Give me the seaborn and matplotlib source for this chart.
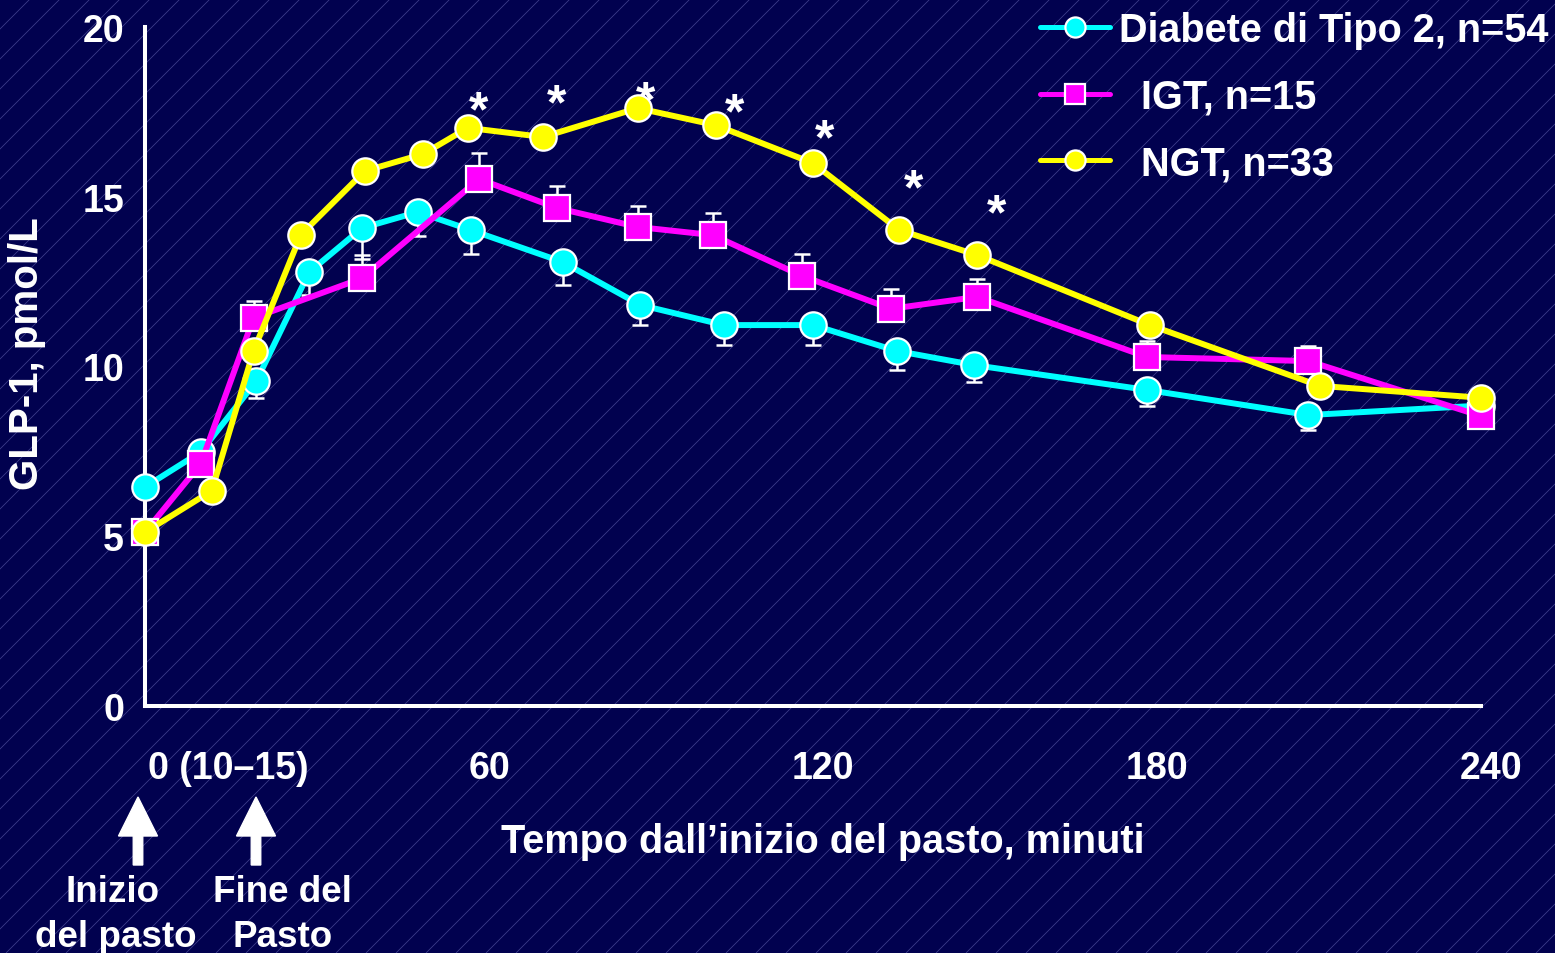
import numpy as np
import pandas as pd
import matplotlib
matplotlib.use("Agg")
import matplotlib.pyplot as plt
import matplotlib.transforms as mtransforms
from matplotlib.lines import Line2D
from matplotlib.patches import FancyArrow
import seaborn as sns

# ---- data: plasma GLP-1 (pmol/L) after a mixed meal, mean ± SEM ----
groups = ["Diabete di Tipo 2, n=54", "IGT, n=15", "NGT, n=33"]

t2d_time = [0, 10, 20, 29.5, 39, 49, 58.5, 75, 89, 104, 120, 135, 149, 180, 209, 240]
t2d_glp1 = [6.45, 7.48, 9.57, 12.78, 14.08, 14.55, 14.02, 13.08, 11.81, 11.22,
            11.22, 10.46, 10.04, 9.31, 8.57, 8.85]
t2d_sem = [0.3, 0.3, 0.5, 0.68, 0.9, 0.7, 0.7, 0.68, 0.6, 0.6,
           0.6, 0.56, 0.5, 0.47, 0.44, 0.3]

igt_time = [0, 10, 19.5, 39, 60, 74, 88.5, 102, 118, 134, 149.5, 180, 209, 240]
igt_glp1 = [5.12, 7.13, 11.43, 12.6, 15.52, 14.67, 14.11, 13.87, 12.67, 11.7,
            12.05, 10.28, 10.16, 8.54]
igt_sem = [0.2, 0.3, 0.5, 0.68, 0.77, 0.65, 0.62, 0.65, 0.65, 0.57,
           0.53, 0.47, 0.45, 0.3]

ngt_time = [0, 12, 19.5, 28, 39.5, 50, 58, 71.5, 88.5, 102.5, 120, 135.5, 149.5,
            180.5, 211, 240]
ngt_glp1 = [5.12, 6.34, 10.46, 13.88, 15.76, 16.26, 17.03, 16.76, 17.61, 17.11,
            15.99, 14.02, 13.28, 11.22, 9.43, 9.08]

# significance marks (NGT vs T2D)
sig_time = [60, 74, 90, 106, 122, 138, 153]
sig_level = [17.88, 18.09, 18.17, 17.82, 17.05, 15.58, 14.85]

x_ticks = [0, 17, 60, 120, 180, 240]
x_tick_labels = ["0 (10\u201315)", "", "60", "120", "180", "240"]
y_ticks = [0, 5, 10, 15, 20]

colors = ["#00ffff", "#ff00ff", "#ffff00"]
marker_shapes = ["o", "s", "o"]

# ---- styling ----
W, H = 1555, 954
NAVY = "#01014f"
sns.set_style("white")
plt.rcParams.update({
    "font.family": ["Liberation Sans", "DejaVu Sans"],
    "font.weight": "bold",
    "text.color": "white",
    "axes.labelcolor": "white",
    "axes.labelweight": "bold",
})

fig = plt.figure(figsize=(W / 100, H / 100), dpi=100, facecolor=NAVY)

# diagonal pinstripe backdrop
bg = fig.add_axes([0, 0, 1, 1], zorder=0)
bg.set_xlim(0, W)
bg.set_ylim(0, H)
bg.axis("off")
bg.set_facecolor(NAVY)
for c in np.arange(-H, W + 30, 30):
    bg.plot([c, c + H], [0, H], color="#6a6ab8", lw=0.55, alpha=0.6, solid_capstyle="butt")

ax = fig.add_axes([145 / W, 1 - 707 / H, (1481 - 145) / W, (707 - 28) / H], zorder=1)
ax.set_facecolor("none")

df = pd.concat([
    pd.DataFrame({"time": t2d_time, "glp1": t2d_glp1, "group": groups[0]}),
    pd.DataFrame({"time": igt_time, "glp1": igt_glp1, "group": groups[1]}),
    pd.DataFrame({"time": ngt_time, "glp1": ngt_glp1, "group": groups[2]}),
], ignore_index=True)

# SEM whiskers: downward for T2D, upward for IGT
ax.errorbar(t2d_time, t2d_glp1, yerr=[t2d_sem, np.zeros(len(t2d_sem))], fmt="none",
            ecolor="white", elinewidth=1.8, capsize=6, capthick=1.8, zorder=2, clip_on=False)
ax.errorbar(igt_time, igt_glp1, yerr=[np.zeros(len(igt_sem)), igt_sem], fmt="none",
            ecolor="white", elinewidth=1.8, capsize=6, capthick=1.8, zorder=2, clip_on=False)

sns.lineplot(data=df, x="time", y="glp1", hue="group", hue_order=groups,
             palette=dict(zip(groups, colors)), style="group", style_order=groups,
             markers=dict(zip(groups, marker_shapes)), dashes=False, sort=False,
             estimator=None, errorbar=None, linewidth=4.3, markersize=19,
             markeredgecolor="white", markeredgewidth=1.6, legend=False,
             clip_on=False, ax=ax)
for i, line in enumerate([l for l in ax.lines if len(l.get_xdata()) > 2]):
    line.set_zorder(3 + i)

# asterisks above the NGT curve
for t, lvl in zip(sig_time, sig_level):
    ax.annotate("*", xy=(t, lvl), xytext=(0, -19), textcoords="offset points",
                ha="center", va="baseline", fontsize=36, fontweight="bold",
                color="white", annotation_clip=False)

ax.set_xlim(0, 240)
ax.set_ylim(0, 20)
ax.set_xticks(x_ticks)
ax.set_xticklabels(x_tick_labels)
ax.set_yticks(y_ticks)

for side in ["top", "right"]:
    ax.spines[side].set_visible(False)
for side in ["left", "bottom"]:
    ax.spines[side].set_color("white")
    ax.spines[side].set_linewidth(2.9)

ax.tick_params(axis="x", colors="white", width=2.9, length=8, pad=24, labelsize=27)
ax.tick_params(axis="y", colors="white", width=2.9, length=9.5, pad=5.5, labelsize=27)
for lab in ax.get_xticklabels() + ax.get_yticklabels():
    lab.set_fontweight("bold")

shift = mtransforms.ScaledTranslation(10 / 100, 0, fig.dpi_scale_trans)
for i, lab in enumerate(ax.get_xticklabels()):
    if i == 0:
        lab.set_horizontalalignment("left")
        lab.set_transform(lab.get_transform() + mtransforms.ScaledTranslation(3 / 100, 0, fig.dpi_scale_trans))
    else:
        lab.set_transform(lab.get_transform() + shift)

ax.set_xlabel("Tempo dall\u2019inizio del pasto, minuti", fontsize=28.5, fontweight="bold")
ax.xaxis.set_label_coords((823 - 145) / 1336, (707 - 823) / 679)
ax.xaxis.label.set_verticalalignment("top")
ax.set_ylabel("GLP-1, pmol/L", fontsize=29, fontweight="bold")
ax.yaxis.set_label_coords((46 - 145) / 1336, (707 - 354) / 679)

# legend
handles = [Line2D([], [], color=c, marker=m, markersize=14.5, markeredgecolor="white",
                  markeredgewidth=1.6, lw=3.6) for c, m in zip(colors, marker_shapes)]
leg_labels = [groups[0], "  " + groups[1], "  " + groups[2]]
leg = ax.legend(handles, leg_labels, loc="upper left", bbox_to_anchor=(1040 / W, 1 - 12 / H),
                bbox_transform=fig.transFigure, frameon=False, borderpad=0, borderaxespad=0,
                handlelength=1.77, handletextpad=0.22, labelspacing=0.72,
                prop=dict(weight="bold", size=28.5))
for txt in leg.get_texts():
    txt.set_color("white")

# meal start / end arrows and captions (figure pixel coordinates)
for x_px in (138, 256):
    arrow = FancyArrow(x_px / 100, (H - 866) / 100, 0, (866 - 798) / 100, width=0.095,
                       head_width=0.39, head_length=0.39, length_includes_head=True,
                       color="white", transform=fig.dpi_scale_trans)
    fig.add_artist(arrow)

captions = [("Inizio", 113, 902), ("del pasto", 116, 947), ("Fine del", 282, 902), ("Pasto", 283, 947)]
for s, x_px, y_px in captions:
    fig.text(x_px / W, 1 - y_px / H, s, ha="center", va="baseline", fontsize=26.5,
             fontweight="bold", color="white")

fig.savefig("out.png", dpi=100, facecolor=fig.get_facecolor())
